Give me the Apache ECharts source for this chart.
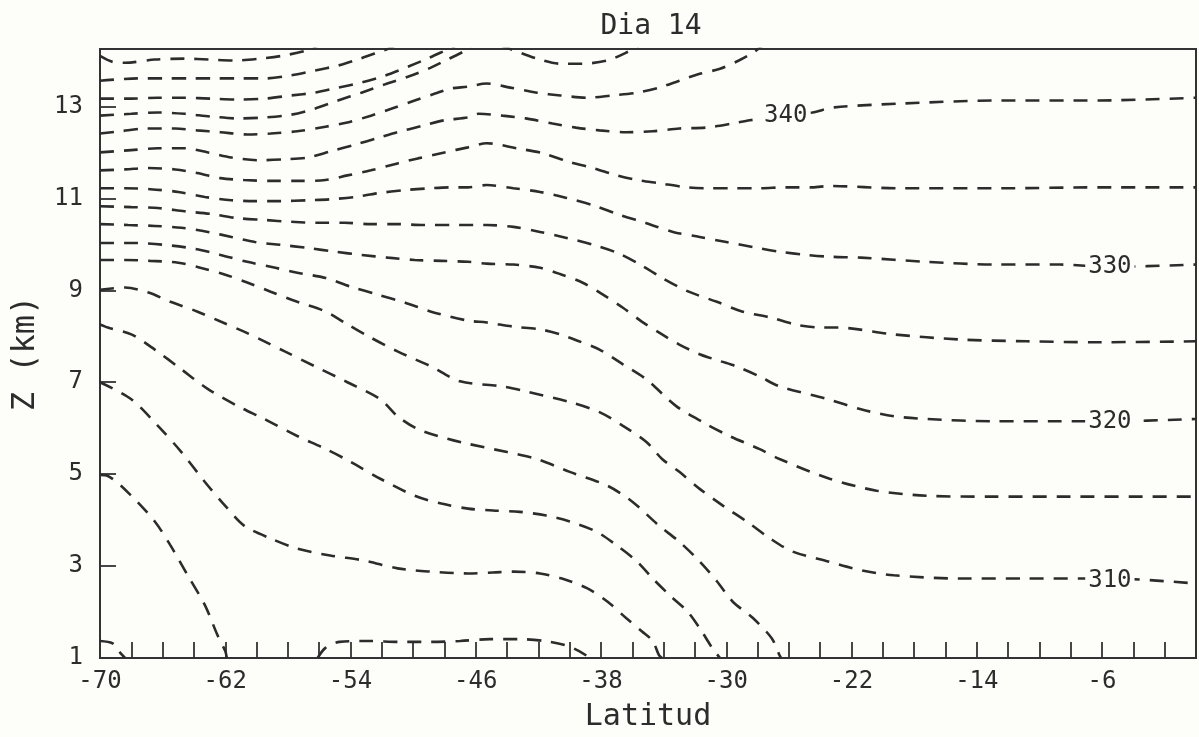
<!DOCTYPE html>
<html><head><meta charset="utf-8">
<script src="https://cdn.jsdelivr.net/npm/echarts@6/dist/echarts.min.js"></script>
<style>html,body{margin:0;padding:0;background:#fdfdf9}#c{width:1199px;height:737px}</style>
</head><body><div id="c"></div>
<script>
// Axis ranges and labelled ticks
const latMin = -70, latMax = 0;
const zMin = 1, zMax = 14.25;
const xTickLabels = [-70, -62, -54, -46, -38, -30, -22, -14, -6];
const yTickLabels = [1, 3, 5, 7, 9, 11, 13];

// Isentrope contours (latitude, height km)
const c285 = [[-70,1.37],[-69.2,1.32],[-68.8,1.15],[-68.4,1.0]];
const c290a = [[-70,4.98],[-69.5,4.96],[-68,4.53],[-66.5,3.97],[-65.5,3.45],[-64.4,2.8],[-63.3,2.15],[-62.5,1.5],[-62,1.15],[-61.9,1.0]];
const c290b = [[-56.1,1.0],[-55.6,1.22],[-54.7,1.35],[-52.8,1.37],[-50.9,1.35],[-48.9,1.35],[-47,1.37],[-45.1,1.41],[-43.2,1.41],[-41.6,1.37],[-40.3,1.28],[-39.4,1.15],[-38.7,1.0]];
const c295 = [[-70,7.0],[-68,6.63],[-66.3,6.05],[-64.8,5.48],[-63.3,4.83],[-62,4.31],[-60.8,3.88],[-59.1,3.6],[-57.4,3.38],[-55.3,3.23],[-53.1,3.12],[-51,2.95],[-48.9,2.88],[-46.5,2.84],[-44.9,2.86],[-43.6,2.88],[-41.9,2.84],[-40.5,2.73],[-38.9,2.52],[-37.6,2.23],[-36.4,1.87],[-35.4,1.58],[-34.7,1.37],[-34.3,1.06],[-34.1,1.0]];
const c300 = [[-70,8.26],[-69.5,8.19],[-68,8.04],[-66.5,7.71],[-64.8,7.28],[-63.1,6.85],[-61.2,6.48],[-59.5,6.2],[-57.4,5.83],[-55.6,5.55],[-54,5.27],[-52.1,4.9],[-49.9,4.53],[-48.2,4.36],[-46.5,4.25],[-44.9,4.21],[-43.2,4.18],[-41.5,4.1],[-40,3.97],[-38.3,3.75],[-37,3.45],[-35.7,3.1],[-34.7,2.73],[-33.6,2.36],[-32.5,2.02],[-31.7,1.65],[-30.9,1.22],[-30.4,1.0]];
const c305 = [[-70,9.01],[-68.4,9.06],[-66.9,8.95],[-65.5,8.75],[-63.8,8.54],[-62.3,8.32],[-60.8,8.1],[-59.5,7.89],[-58.2,7.67],[-56.3,7.35],[-54.2,7.0],[-52.1,6.63],[-51,6.26],[-49.7,5.98],[-47.8,5.77],[-46.5,5.66],[-44,5.48],[-42.1,5.33],[-40,5.05],[-37.6,4.75],[-36,4.4],[-34.3,3.88],[-33,3.53],[-31.7,3.1],[-30.6,2.67],[-29.6,2.23],[-28.3,1.87],[-27.1,1.43],[-26.6,1.06],[-26.5,1.0]];
const c310 = [[-70,9.66],[-68.4,9.66],[-66.8,9.64],[-65,9.6],[-63.6,9.49],[-62,9.34],[-60.6,9.17],[-59.1,8.97],[-57.4,8.75],[-55.6,8.54],[-54.2,8.26],[-52.7,7.97],[-51,7.67],[-48.9,7.35],[-47,7.02],[-44.3,6.91],[-42.8,6.8],[-40,6.57],[-38.1,6.35],[-36.6,6.05],[-35.1,5.7],[-34.1,5.33],[-33,5.05],[-31.7,4.68],[-30.2,4.31],[-28.7,3.97],[-27.2,3.6],[-25.8,3.32],[-23.5,3.1],[-21.4,2.91],[-19.3,2.8],[-15.1,2.73],[-10.8,2.73],[-5.5,2.73],[0,2.62]];
const c315 = [[-70,10.03],[-68,10.03],[-65.9,9.99],[-63.9,9.9],[-62.3,9.77],[-60.6,9.62],[-58.8,9.49],[-57.4,9.38],[-55.6,9.27],[-54,9.08],[-52.3,8.91],[-50.5,8.73],[-48.9,8.54],[-46.5,8.34],[-45.3,8.3],[-43.6,8.21],[-41.9,8.15],[-40.6,8.04],[-39.4,7.89],[-38.1,7.71],[-36.6,7.39],[-35.1,7.06],[-33.2,6.48],[-31.5,6.13],[-29.8,5.83],[-27.9,5.55],[-26.6,5.33],[-23.4,4.9],[-20.4,4.64],[-17.2,4.53],[-12.9,4.51],[-8.7,4.51],[0,4.51]];
const c320 = [[-70,10.44],[-68.2,10.42],[-66.5,10.4],[-64.8,10.36],[-63.1,10.27],[-61.6,10.16],[-60.1,10.05],[-58.5,9.99],[-56.7,9.92],[-55,9.84],[-53.3,9.77],[-51.6,9.71],[-49.9,9.66],[-48.2,9.64],[-46.5,9.62],[-45.3,9.58],[-43.6,9.56],[-41.9,9.49],[-40.5,9.34],[-39.2,9.17],[-37.9,8.91],[-36.6,8.62],[-35.4,8.32],[-34.1,8.04],[-33,7.82],[-31.7,7.61],[-30.4,7.46],[-29.4,7.35],[-27.9,7.13],[-26.6,6.91],[-23.5,6.63],[-21.4,6.41],[-19.3,6.26],[-17.2,6.2],[-12.9,6.15],[-8.7,6.15],[-5.5,6.15],[0,6.2]];
const c325 = [[-70,10.83],[-68,10.81],[-66.3,10.79],[-64.6,10.72],[-62.9,10.66],[-61.2,10.57],[-59.5,10.53],[-57.8,10.49],[-56.1,10.47],[-54.4,10.47],[-52.7,10.44],[-51,10.44],[-49.3,10.42],[-47.6,10.42],[-45.3,10.42],[-43.6,10.38],[-41.9,10.27],[-40.2,10.14],[-38.5,9.99],[-37,9.82],[-35.5,9.56],[-34.1,9.27],[-32.4,8.97],[-30.6,8.75],[-29,8.54],[-27.2,8.41],[-25.5,8.25],[-23.9,8.19],[-22.9,8.19],[-19.3,8.04],[-15.1,7.93],[-10.8,7.89],[-6.5,7.87],[0,7.89]];
const c330 = [[-70,11.22],[-68.4,11.22],[-66.8,11.2],[-65,11.14],[-63.3,11.03],[-61.6,10.96],[-60.1,10.94],[-58.5,10.94],[-56.7,10.96],[-55.3,10.98],[-53.7,11.03],[-52.3,11.11],[-50.5,11.18],[-48.9,11.22],[-47.6,11.24],[-46.5,11.24],[-45.3,11.29],[-43.6,11.22],[-41.9,11.14],[-40.2,11.01],[-38.5,10.85],[-36.8,10.64],[-35.1,10.46],[-33.4,10.27],[-31.7,10.16],[-30,10.05],[-28.3,9.94],[-26.6,9.84],[-24.9,9.77],[-23.4,9.73],[-21.4,9.71],[-17.2,9.62],[-12.9,9.56],[-8.7,9.56],[-5.5,9.51],[0,9.56]];
const c335 = [[-70,11.61],[-68.4,11.63],[-66.9,11.66],[-65.2,11.63],[-63.8,11.55],[-62.3,11.44],[-60.8,11.4],[-59.1,11.38],[-57.4,11.38],[-55.6,11.4],[-54.2,11.5],[-52.7,11.61],[-51,11.76],[-49.7,11.87],[-48,12.0],[-46.5,12.11],[-45.3,12.2],[-43.4,12.09],[-41.7,11.98],[-40,11.79],[-38.5,11.66],[-37,11.5],[-35.7,11.4],[-34.3,11.33],[-32.5,11.24],[-31.1,11.22],[-29.4,11.22],[-27.9,11.22],[-26.2,11.24],[-24.5,11.24],[-23.4,11.27],[-19,11.22],[-12.6,11.22],[-6.2,11.24],[0,11.24]];
const c340 = [[-70,12.0],[-68,12.05],[-66.3,12.09],[-64.6,12.09],[-63.1,12.0],[-61.6,11.89],[-59.9,11.83],[-58.2,11.85],[-56.7,11.89],[-55.3,12.02],[-53.7,12.17],[-52.3,12.31],[-51,12.44],[-49.5,12.57],[-48,12.7],[-46.5,12.76],[-45.8,12.84],[-44.3,12.8],[-42.8,12.74],[-41.1,12.63],[-39.6,12.54],[-38.1,12.48],[-36.4,12.44],[-34.7,12.46],[-33,12.52],[-31.3,12.54],[-29.6,12.63],[-28.5,12.7],[-26.2,12.8],[-24.5,12.87],[-23.1,12.98],[-19,13.06],[-12.6,13.13],[-6.2,13.13],[0,13.19]];
const c345 = [[-70,12.41],[-68.7,12.46],[-67.1,12.52],[-65.2,12.52],[-63.8,12.48],[-62.3,12.44],[-60.6,12.39],[-59.1,12.41],[-57.4,12.46],[-55.6,12.56],[-54.2,12.65],[-52.7,12.8],[-51.4,12.95],[-49.9,13.13],[-48.6,13.28],[-47.6,13.39],[-46.5,13.43],[-45.3,13.5],[-43.8,13.41],[-42.1,13.3],[-40.6,13.24],[-38.9,13.19],[-37.3,13.24],[-35.7,13.3],[-34.3,13.41],[-33,13.56],[-31.7,13.71],[-30.4,13.82],[-29.2,14.0],[-28.3,14.17],[-27.7,14.32]];
const c350a = [[-70,12.8],[-68,12.84],[-66.3,12.87],[-64.6,12.84],[-62.9,12.78],[-61.2,12.74],[-59.5,12.76],[-57.8,12.82],[-56.3,12.95],[-54.8,13.13],[-53.3,13.3],[-51.8,13.48],[-50.3,13.65],[-48.9,13.84],[-47.7,14.04],[-46.7,14.21],[-46.3,14.32]];
const c350b = [[-44.5,14.34],[-43.8,14.25],[-42.1,14.04],[-40.6,13.93],[-39.2,13.93],[-37.6,14.0],[-36.4,14.17],[-35.5,14.34]];
const c355 = [[-70,13.17],[-68,13.17],[-66.3,13.19],[-64.6,13.19],[-62.9,13.17],[-61.2,13.15],[-59.5,13.17],[-57.8,13.24],[-56.3,13.3],[-54.8,13.41],[-53.3,13.52],[-51.8,13.67],[-50.3,13.87],[-49.1,14.04],[-48,14.21],[-47.3,14.32]];
const c360 = [[-70,13.56],[-67.6,13.61],[-65.9,13.61],[-64.2,13.61],[-62.7,13.61],[-61.2,13.61],[-59.5,13.61],[-57.9,13.67],[-56.3,13.78],[-54.8,13.89],[-53.4,14.04],[-52.3,14.17],[-51.4,14.28],[-51.0,14.36]];
const c365 = [[-70,14.1],[-69.2,13.97],[-68.4,13.95],[-66.5,14.02],[-64.6,14.04],[-63,14.02],[-61.4,14.0],[-59.8,14.04],[-58.4,14.1],[-56.9,14.21],[-56.1,14.32]];

const contourNames = ['285','290','290','295','300','305','310','315','320','325','330','335','340','345','350','350','355','360','365'];
const contourData = [c285,c290a,c290b,c295,c300,c305,c310,c315,c320,c325,c330,c335,c340,c345,c350a,c350b,c355,c360,c365];

// Inline contour labels: [latitude, height, text]
const contourLabels = [[-26.2,12.8,'340'],[-5.5,9.51,'330'],[-5.5,6.15,'320'],[-5.5,2.69,'310']];

const ink = '#2c2c2c';
const bg = '#fdfdf9';
const font = 'DejaVu Sans Mono';

const series = contourData.map((d, i) => ({
  name: contourNames[i], type: 'line', data: d, showSymbol: false, symbol: 'none',
  smooth: 0.3, clip: true, z: 2, silent: true,
  lineStyle: { color: ink, width: 2.6, type: [14, 10] }
}));
series.push({
  type: 'scatter', data: contourLabels, symbolSize: 1, z: 10, silent: true,
  itemStyle: { color: bg, opacity: 1 },
  label: { show: true, position: 'inside', formatter: p => p.value[2], opacity: 1,
    fontFamily: font, fontSize: 24, color: ink, backgroundColor: bg, padding: [1, 3] }
});

const chart = echarts.init(document.getElementById('c'), null, { renderer: 'canvas' });
chart.setOption({
  backgroundColor: bg,
  animation: false,
  title: { text: 'Dia 14', left: 646, top: 8, textAlign: 'center',
    textStyle: { fontFamily: font, fontSize: 28, fontWeight: 'normal', color: ink } },
  grid: { left: 100, right: 2, top: 49, bottom: 77, show: true, borderColor: '#333', borderWidth: 2, backgroundColor: 'transparent' },
  xAxis: {
    type: 'value', min: latMin, max: latMax, interval: 2,
    name: 'Latitud', nameLocation: 'middle', nameGap: 44,
    nameTextStyle: { fontFamily: font, fontSize: 30, color: ink },
    axisLine: { show: true, onZero: false, lineStyle: { color: '#333', width: 2 } },
    axisTick: { show: true, inside: true, length: 16, lineStyle: { color: '#333', width: 1.8 } },
    splitLine: { show: false },
    axisLabel: { margin: 12, fontFamily: font, fontSize: 24, color: ink,
      formatter: v => { const r = Math.round(v); return (Math.abs(v - r) < 1e-6 && xTickLabels.includes(r)) ? String(r) : ''; } }
  },
  yAxis: {
    type: 'value', min: zMin, max: zMax, interval: 2,
    name: 'Z (km)', nameLocation: 'middle', nameGap: 58, nameRotate: 90,
    nameTextStyle: { fontFamily: font, fontSize: 32, color: ink },
    axisLine: { show: true, onZero: false, lineStyle: { color: '#333', width: 2 } },
    axisTick: { show: true, inside: true, length: 16, lineStyle: { color: '#333', width: 1.8 } },
    splitLine: { show: false },
    axisLabel: { margin: 17, fontFamily: font, fontSize: 24, color: ink,
      formatter: v => { const r = Math.round(v); return (Math.abs(v - r) < 1e-6 && yTickLabels.includes(r)) ? String(r) : ''; } }
  },
  series: series
});
</script></body></html>
